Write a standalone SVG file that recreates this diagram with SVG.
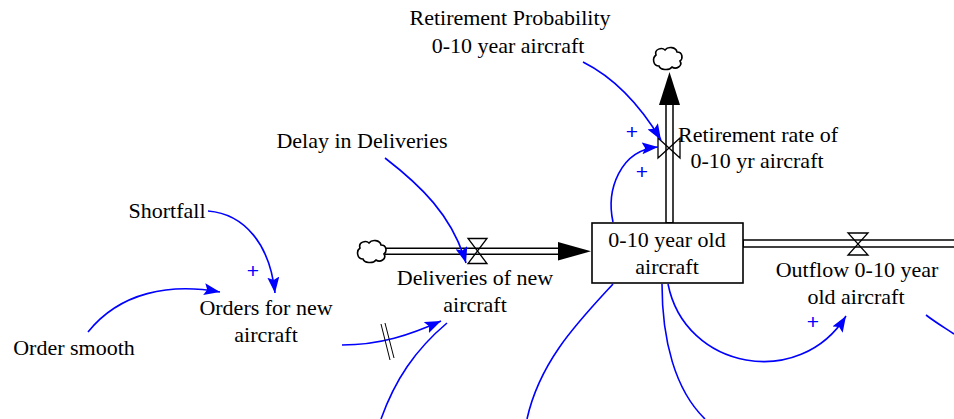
<svg xmlns="http://www.w3.org/2000/svg" width="954" height="419" viewBox="0 0 954 419">
  <style>
    .lbl { font-family: "Liberation Serif", Tinos, "Times New Roman", Times, "DejaVu Serif", serif; font-size: 22px; fill: #000; text-anchor: middle; }
    .pol { font-family: "Liberation Sans", Arial, sans-serif; font-size: 21px; fill: #0000ff; text-anchor: middle; }
    .link { fill: none; stroke: #0000ff; stroke-width: 1.6; marker-end: url(#head); }
    .plain { fill: none; stroke: #0000ff; stroke-width: 1.6; }
    .pipeO { fill: none; stroke: #000; }
    .pipeI { fill: none; stroke: #fff; }
    .valve { fill: none; stroke: #000; stroke-width: 1.3; }
    .cloud { fill: #fff; stroke: #000; stroke-width: 1.6; }
  </style>
  <defs>
    <marker id="head" markerUnits="userSpaceOnUse" markerWidth="18" markerHeight="12" refX="16" refY="6" orient="auto">
      <path d="M0,0 L16,6 L0,12 L3,6 Z" fill="#0000ff"/>
    </marker>
    <path id="cloudShape" d="M-12,-4 C-14,-10 -6,-12 -3,-9 C0,-13 8,-12 9,-7 C15,-7 15,0 12,2 C15,7 8,11 4,8 C1,12 -8,11 -9,7 C-15,7 -16,-1 -12,-4 Z"/>
  </defs>

  <!-- material flows -->
  <g id="flows">
    <!-- inflow pipe -->
    <line class="pipeO" x1="385" y1="251.3" x2="560" y2="251.3" stroke-width="7.5"/>
    <line class="pipeI" x1="385" y1="251.3" x2="562" y2="251.3" stroke-width="4.5"/>
    <path d="M558,242 L591,251.3 L558,260.5 Z" fill="#000"/>
    <!-- retirement pipe -->
    <line class="pipeO" x1="669.5" y1="223" x2="669.5" y2="103" stroke-width="8.5"/>
    <line class="pipeI" x1="669.5" y1="222" x2="669.5" y2="103" stroke-width="5.5"/>
    <path d="M659,105 L669.5,72 L680,105 Z" fill="#000"/>
    <!-- outflow pipe -->
    <line class="pipeO" x1="743" y1="243.5" x2="954" y2="243.5" stroke-width="8.5"/>
    <line class="pipeI" x1="744" y1="243.5" x2="954" y2="243.5" stroke-width="5.5"/>
  </g>

  <g id="sourceCloud"><use href="#cloudShape" class="cloud" transform="translate(372,252)"/></g>
  <g id="sinkCloud"><use href="#cloudShape" class="cloud" transform="translate(668,59)"/></g>

  <!-- stock -->
  <g id="stock">
    <rect x="592" y="223" width="151" height="60" fill="#fff" stroke="#000" stroke-width="1.6"/>
    <text class="lbl" x="667" y="247">0-10 year old</text>
    <text class="lbl" x="667" y="274">aircraft</text>
  </g>

  <!-- rates -->
  <g id="deliveries">
    <path class="valve" d="M468,238.5 H487 L468,263.5 H487 Z"/>
    <text class="lbl" x="475" y="285">Deliveries of new</text>
    <text class="lbl" x="475" y="312">aircraft</text>
  </g>
  <g id="retirement">
    <path class="valve" d="M658,138 V158 L680,138 V158 Z"/>
    <text class="lbl" x="758" y="142">Retirement rate of</text>
    <text class="lbl" x="757" y="168">0-10 yr aircraft</text>
  </g>
  <g id="outflow">
    <path class="valve" d="M848,233 H868 L848,255 H868 Z"/>
    <text class="lbl" x="857" y="277">Outflow 0-10 year</text>
    <text class="lbl" x="856" y="304">old aircraft</text>
  </g>

  <!-- auxiliaries -->
  <g id="retirementProbability">
    <text class="lbl" x="510" y="25">Retirement Probability</text>
    <text class="lbl" x="508" y="53">0-10 year aircraft</text>
  </g>
  <g id="delayInDeliveries"><text class="lbl" x="362" y="148">Delay in Deliveries</text></g>
  <g id="shortfall"><text class="lbl" x="167" y="218">Shortfall</text></g>
  <g id="ordersForNewAircraft">
    <text class="lbl" x="266" y="315">Orders for new</text>
    <text class="lbl" x="266" y="342">aircraft</text>
  </g>
  <g id="orderSmooth"><text class="lbl" x="74" y="355">Order smooth</text></g>

  <!-- causal links -->
  <g id="connectors">
    <path class="link" d="M583,62 C615,78 640,105 661,140"/>
    <path class="link" d="M613,222 C606,190 620,150 658,147"/>
    <path class="link" d="M385,158 C420,185 452,215 466,263"/>
    <path class="link" d="M208,211 C245,214 270,245 275,293"/>
    <path class="link" d="M88,332 C120,292 170,283 220,292"/>
    <path class="link" d="M342,345 C380,345 410,335 441,321"/>
    <line x1="381" y1="324" x2="390" y2="360" stroke="#000" stroke-width="1"/>
    <line x1="385" y1="323" x2="394" y2="358" stroke="#000" stroke-width="1"/>
    <path class="link" d="M668,284 C685,370 800,390 846,316"/>
    <path class="plain" d="M447,323 C415,350 395,380 381,419"/>
    <path class="plain" d="M613,284 C580,320 540,360 527,419"/>
    <path class="plain" d="M662,284 C662,340 675,390 705,419"/>
    <path class="plain" d="M926,315 C935,322 945,328 954,334"/>
    <text class="pol" x="632" y="139">+</text>
    <text class="pol" x="642" y="179">+</text>
    <text class="pol" x="253" y="278">+</text>
    <text class="pol" x="813" y="329">+</text>
  </g>
</svg>
